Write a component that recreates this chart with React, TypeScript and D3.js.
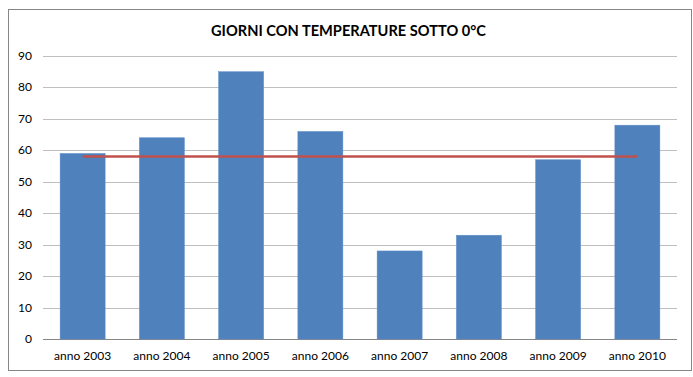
import React from "react";
import * as d3 from "d3";

const categories = ["anno 2003", "anno 2004", "anno 2005", "anno 2006", "anno 2007", "anno 2008", "anno 2009", "anno 2010"];
const values = [59, 64, 85, 66, 28, 33, 57, 68];
const averageValue = 58;
const yTicks = [0, 10, 20, 30, 40, 50, 60, 70, 80, 90];
const title = "GIORNI CON TEMPERATURE SOTTO 0°C";

export default function App() {
  const W = 693, H = 377;
  const left = 43, right = 677, top = 56, bottom = 339;
  const x = d3.scaleBand<string>().domain(categories).range([left, right]).paddingInner(0.432).paddingOuter(0.216);
  const y = d3.scaleLinear().domain([0, 90]).range([bottom, top]);
  const font = "Lato, 'Open Sans', sans-serif";
  const first = categories[0], last = categories[categories.length - 1];
  return (
    <svg width={W} height={H} style={{ position: "absolute", left: 0, top: 0 }} fontFamily={font}>
      <rect x={0} y={0} width={W} height={H} fill="#fff" />
      <rect x={8.5} y={9.5} width={683} height={361} fill="#fff" stroke="#868686" strokeWidth={1} />
      <text x={348.5} y={36} textAnchor="middle" fontSize={15.5} fontWeight="bold" fill="#000" textLength={275} lengthAdjust="spacingAndGlyphs">{title}</text>
      {yTicks.map(t => (
        <g key={t}>
          <line x1={left} x2={right} y1={Math.round(y(t)) + 0.5} y2={Math.round(y(t)) + 0.5} stroke={t === 0 ? "#868686" : "#BFBFBF"} strokeWidth={1} />
          <text x={32} y={y(t) + 4} textAnchor="end" fontSize={12} fill="#000">{t}</text>
        </g>
      ))}
      {categories.map((c, i) => (
        <rect key={c} x={x(c)} y={y(values[i])} width={x.bandwidth()} height={bottom - y(values[i])} fill="#4F81BD" stroke="#5B8DC8" strokeWidth={0.5} />
      ))}
      <line x1={(x(first) as number) + x.bandwidth() / 2} x2={(x(last) as number) + x.bandwidth() / 2} y1={y(averageValue)} y2={y(averageValue)} stroke="#C0504D" strokeWidth={2.5} />
      {categories.map(c => (
        <text key={c} x={(x(c) as number) + x.bandwidth() / 2} y={360} textAnchor="middle" fontSize={12} fill="#000">{c}</text>
      ))}
    </svg>
  );
}
